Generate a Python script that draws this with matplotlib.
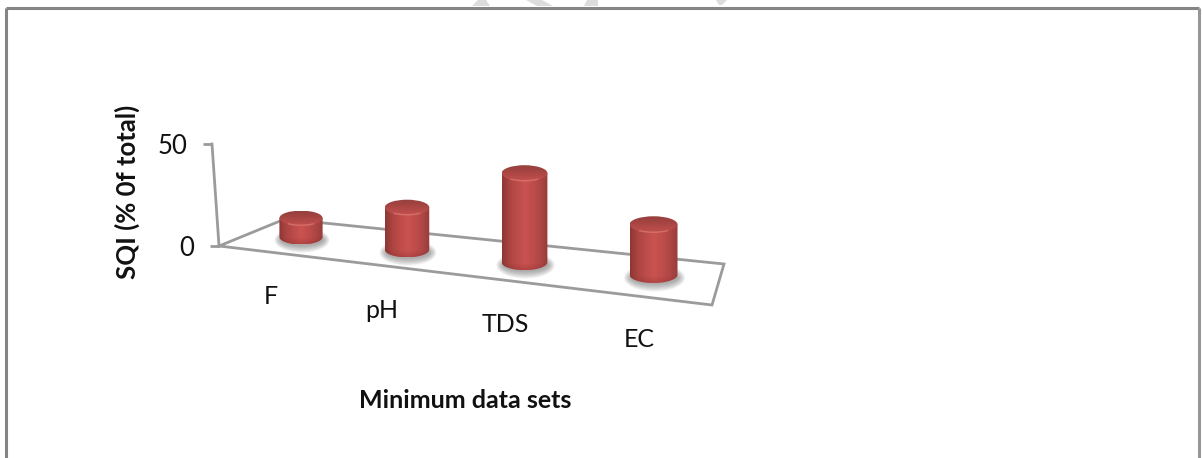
import numpy as np
import matplotlib
matplotlib.use("Agg")
import matplotlib.pyplot as plt
from matplotlib.colors import LinearSegmentedColormap as LSC
from matplotlib.patches import Ellipse, PathPatch, Polygon
from matplotlib.path import Path

categories = ["F", "pH", "TDS", "EC"]
values = [9, 19.5, 40, 22]
y_ticks = [0, 50]
x_title = "Minimum data sets"
y_title = "SQI (% 0f total)"

plt.rcParams["font.family"] = ["Lato", "DejaVu Sans"]
W, H = 1202, 458
fig = plt.figure(figsize=(W / 100, H / 100), dpi=100)
ax = fig.add_axes([0, 0, 1, 1])
ax.set_xlim(0, W)
ax.set_ylim(H, 0)
ax.axis("off")
ax.set_autoscale_on(False)

GRAY = "#9b9b9b"


def depth(i):
    return 1 + 0.03 * i


def base(i):
    """Centre of a column's foot for category position i (oblique projection)."""
    return 301 + 100.25 * i + 5.75 * i ** 2, 237 + 12.6 * i


def height_px(i, v):
    return 2.1 * depth(i) * v


def wall_y(v):
    return 246 - 102 * v / 50


# Outer frame and watermark fragments
ax.plot([6, 6], [H, 8], color="#858585", lw=2.2, solid_capstyle="butt")
ax.plot([6, 1199], [8, 8], color="#858585", lw=2.2, solid_capstyle="butt")
ax.plot([1199, 1199], [8, H], color="#969696", lw=2.2, solid_capstyle="butt")
for pts in ([(472, 6), (478, 0), (486, 0), (490, 6)],
            ((526, 0), (542, 0), (553, 6), (537, 6)),
            ((584, 6), (587, 0), (598, 0), (598, 6)),
            ((716, 0), (727, 0), (722, 5), (719, 5))):
    ax.add_patch(Polygon(pts, closed=True, fc="#dcdcdc", ec="none"))

# Floor and wall
fl, fr, br, bl = (219, 246), (712, 305), (724, 264), (285, 219)
ax.plot([fl[0], fr[0], br[0], bl[0], fl[0]], [fl[1], fr[1], br[1], bl[1], fl[1]],
        color=GRAY, lw=2, solid_joinstyle="miter")
ax.plot([fl[0], 212], [wall_y(0), wall_y(50)], color=GRAY, lw=2)
for t, x0, x1 in zip(y_ticks, (210, 203), (219, 212)):
    ax.plot([x0, x1], [wall_y(t)] * 2, color=GRAY, lw=2, solid_capstyle="butt")
    ax.text(x0 - 16, wall_y(t) + 2, str(t), ha="right", va="center",
            fontsize=18.5, color="#111111")

body_cmap = LSC.from_list("b", ["#8d3735", "#ac4542", "#bd4c4a", "#c95351", "#c04d4b",
                                "#ae4745", "#983c3a"])
cap_cmap = LSC.from_list("c", ["#96403e", "#a34441", "#b34a48", "#c4504e"])
grad_h = np.linspace(0, 1, 128).reshape(1, -1)
grad_v = np.linspace(0, 1, 64).reshape(-1, 1)

for i, (cat, v) in enumerate(zip(categories, values)):
    cx, by = base(i)
    rx = 21.6 * depth(i) if i < 3 else 24
    ry = 7.5 * depth(i)
    ty = by - height_px(i, v)
    z = 5 + i

    # Soft shadow on the floor
    for k in np.linspace(2.0, 0.9, 16):
        ax.add_patch(Ellipse((cx + 1, by + 3), 2 * rx * (0.72 + 0.28 * k), 2 * ry * k * 0.85,
                             fc="#666666", ec="none", alpha=0.045, zorder=z))

    # Body: rectangle + front half ellipse
    t = np.linspace(np.pi, 0, 40)
    xs = np.r_[cx - rx, cx + rx * np.cos(t), cx + rx]
    ys = np.r_[ty, by + ry * np.sin(t), ty]
    body = Path(np.c_[xs, ys])
    im = ax.imshow(grad_h, cmap=body_cmap, aspect="auto", zorder=z + 0.1,
                   extent=(cx - rx, cx + rx, by + ry, ty), interpolation="bilinear")
    im.set_clip_path(PathPatch(body, transform=ax.transData))
    im2 = ax.imshow(grad_v, cmap=LSC.from_list("s", [(0.5, 0.15, 0.15, 0), (0.5, 0.15, 0.15, 0.3)]),
                    aspect="auto", zorder=z + 0.2,
                    extent=(cx - rx, cx + rx, by + ry, by + ry - 7), interpolation="bilinear")
    im2.set_clip_path(PathPatch(body, transform=ax.transData))

    # Cap
    cap = Ellipse((cx, ty), 2 * rx, 2 * ry, transform=ax.transData)
    im3 = ax.imshow(grad_v, cmap=cap_cmap, aspect="auto", zorder=z + 0.3,
                    extent=(cx - rx, cx + rx, ty + ry, ty - ry), interpolation="bilinear")
    im3.set_clip_path(cap)
    t2 = np.linspace(np.pi * 0.3, np.pi * 0.7, 20)
    ax.plot(cx + rx * 0.98 * np.cos(t2), ty + ry * 0.95 * np.sin(t2), color="#e2857b",
            lw=1.0, alpha=0.6, zorder=z + 0.4)

    # Category label
    ax.text(cx - 30 + i * 5.2, by + 59 + i * 1.8, cat, ha="center", va="center",
            fontsize=18, color="#111111")

ax.text(465, 400, x_title, ha="center", va="center", fontsize=18, fontweight="bold",
        color="#111111")
ax.text(127, 192, y_title, ha="center", va="center", rotation=90, fontsize=18.5,
        fontweight="bold", color="#111111")

fig.savefig("out.png", dpi=100, facecolor="white")
